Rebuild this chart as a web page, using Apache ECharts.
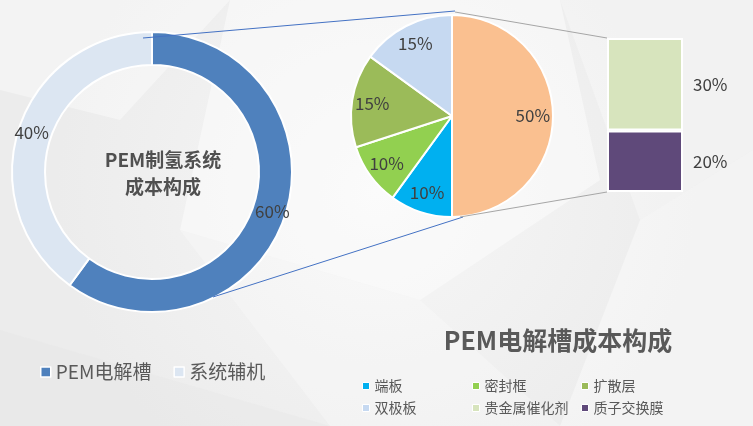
<!DOCTYPE html>
<html><head><meta charset="utf-8">
<script src="https://cdn.jsdelivr.net/npm/echarts@6/dist/echarts.min.js"></script>
<style>html,body{margin:0;padding:0;background:#f2f2f2}#c{width:753px;height:426px}</style>
</head><body><div id="c"></div>
<script>
// ---- data ----
var outerNames = ['PEM电解槽', '系统辅机'];
var outerValues = [60, 40];
var pieNames = ['其他', '端板', '密封框', '扩散层', '双极板'];
var pieValues = [50, 10, 10, 15, 15];
var barNames = ['质子交换膜', '贵金属催化剂'];
var barValues = [20, 30];
var centerText = 'PEM制氢系统\n成本构成';
var titleText = 'PEM电解槽成本构成';

// ---- styles ----
var outerColors = ['#4F81BD', '#DCE6F2'];
var pieColors = ['#FAC090', '#00B0F0', '#92D050', '#9BBB59', '#C6D9F1'];
var barColors = ['#5F497A', '#D7E4BD'];
var FONT = '"Noto Sans CJK SC", "Noto Sans", sans-serif';
var LBL = {fontSize: 17, color: '#404040', fontFamily: FONT};

// layout constants
var donutC = [152, 172], donutR = [107, 140];
var pieC = [452, 116], pieR = 101;
var barBox = {left: 607, top: 38, width: 76, height: 154};

var chart = echarts.init(document.getElementById('c'), null, {renderer: 'canvas'});

function mkData(names, vals, colors) {
  return names.map(function (n, i) { return {name: n, value: vals[i], itemStyle: {color: colors[i]}}; });
}
var pct = function (p) { return p.value + '%'; };

var bgPolys = [
  {pts: [[0,0],[230,0],[120,120],[0,90]], c: 'rgba(255,255,255,0.4)'},
  {pts: [[230,0],[560,0],[600,180],[420,300],[180,230]], c: 'rgba(255,255,255,0.45)'},
  {pts: [[560,0],[753,0],[753,150],[640,220]], c: 'rgba(255,255,255,0.3)'},
  {pts: [[640,220],[753,150],[753,426],[560,426]], c: 'rgba(255,255,255,0.4)'},
  {pts: [[180,230],[420,300],[560,426],[330,426]], c: 'rgba(255,255,255,0.25)'},
  {pts: [[0,330],[330,426],[0,426]], c: 'rgba(230,230,230,0.35)'}
];
var graphics = bgPolys.map(function (p) {
  return {type: 'polygon', z: -10, silent: true, shape: {points: p.pts}, style: {fill: p.c}};
});

// connector lines derived from layout constants
var pieTop = [pieC[0], pieC[1] - pieR], pieBot = [pieC[0] + 8, pieC[1] + pieR];
graphics.push(
  {type: 'line', z: 5, silent: true, shape: {x1: 143, y1: 38, x2: pieTop[0] + 3, y2: pieTop[1] - 4}, style: {stroke: '#4472C4', lineWidth: 1}},
  {type: 'line', z: 5, silent: true, shape: {x1: 213, y1: 297, x2: pieBot[0] + 3, y2: pieBot[1]}, style: {stroke: '#4472C4', lineWidth: 1}},
  {type: 'line', z: 5, silent: true, shape: {x1: pieTop[0] + 3, y1: pieTop[1] - 3, x2: barBox.left, y2: barBox.top}, style: {stroke: '#A6A6A6', lineWidth: 1}},
  {type: 'line', z: 5, silent: true, shape: {x1: pieBot[0], y1: pieBot[1], x2: barBox.left, y2: barBox.top + barBox.height}, style: {stroke: '#A6A6A6', lineWidth: 1}},
  {type: 'text', z: 10, silent: true, style: {text: centerText, x: 163, y: 173, textAlign: 'center', textVerticalAlign: 'middle', font: 'bold 19px ' + FONT, lineHeight: 27, fill: '#505050'}},
  {type: 'text', z: 10, silent: true, style: {text: titleText, x: 558, y: 340, textAlign: 'center', textVerticalAlign: 'middle', font: 'bold 25px ' + FONT, fill: '#595959'}}
);

var legendText = {fontFamily: FONT, color: '#595959'};
var smallLegend = function (left, names) {
  return {orient: 'vertical', left: left, top: 378, padding: 0, itemWidth: 7, itemHeight: 7, itemGap: 6,
    icon: 'rect', textStyle: Object.assign({fontSize: 14, lineHeight: 16}, legendText), data: names,
    itemStyle: {borderColor: '#fff', borderWidth: 1}};
};

chart.setOption({
  animation: false,
  backgroundColor: {type: 'radial', x: 0.5, y: 0.45, r: 0.75, colorStops: [{offset: 0, color: '#F7F7F7'}, {offset: 1, color: '#ECECEC'}]},
  graphic: graphics,
  legend: [
    {orient: 'horizontal', left: 40, top: 362, padding: 0, itemWidth: 10, itemHeight: 10, itemGap: 22, icon: 'rect',
      textStyle: Object.assign({fontSize: 19, lineHeight: 20}, legendText), data: outerNames,
      itemStyle: {borderColor: '#fff', borderWidth: 1.5}},
    smallLegend(362, ['端板', '双极板']),
    smallLegend(472, ['密封框', '贵金属催化剂']),
    smallLegend(581, ['扩散层', '质子交换膜'])
  ],
  grid: {left: barBox.left, top: barBox.top, width: barBox.width, height: barBox.height},
  xAxis: {type: 'category', data: ['其他'], show: false},
  yAxis: {type: 'value', min: 0, max: 50, show: false},
  series: [
    {type: 'pie', name: 'outer', center: donutC, radius: donutR, startAngle: 90, clockwise: true,
      data: mkData(outerNames, outerValues, outerColors),
      itemStyle: {borderColor: '#fff', borderWidth: 2},
      label: Object.assign({position: 'inside', formatter: pct}, LBL), labelLine: {show: false}},
    {type: 'pie', name: 'inner', center: pieC, radius: [0, pieR], startAngle: 90, clockwise: true,
      data: mkData(pieNames, pieValues, pieColors),
      itemStyle: {borderColor: '#fff', borderWidth: 2},
      label: {show: false}, labelLine: {show: false}},
    {type: 'pie', name: 'innerLabels', silent: true, center: pieC, radius: [pieR * 0.54, pieR], startAngle: 90, clockwise: true,
      data: pieNames.map(function (n, i) { return {name: n + ' ', value: pieValues[i]}; }),
      itemStyle: {color: 'rgba(0,0,0,0)'},
      label: Object.assign({position: 'inside', formatter: pct}, LBL), labelLine: {show: false}},
    {type: 'bar', name: barNames[0], stack: 's', barWidth: barBox.width, data: [barValues[0]],
      itemStyle: {color: barColors[0], borderColor: '#fff', borderWidth: 2},
      label: Object.assign({show: true, position: 'right', distance: 10, formatter: pct}, LBL)},
    {type: 'bar', name: barNames[1], stack: 's', barWidth: barBox.width, data: [barValues[1]],
      itemStyle: {color: barColors[1], borderColor: '#fff', borderWidth: 2},
      label: Object.assign({show: true, position: 'right', distance: 10, formatter: pct}, LBL)}
  ]
});
</script></body></html>
